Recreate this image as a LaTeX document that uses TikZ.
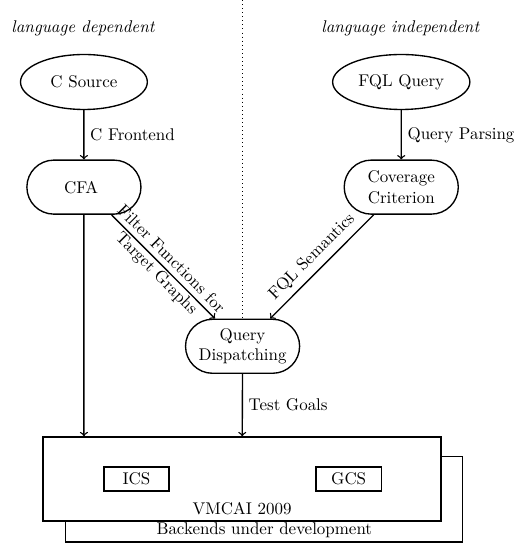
\documentclass[tikz,border=0pt]{standalone}
\usepackage{tikz}
\usetikzlibrary{shapes.geometric,shapes.misc}

\begin{document}
\begin{tikzpicture}[
    source/.style={
        draw,
        ellipse,
        thick,
        minimum width=2.63cm,
        minimum height=1.14cm
    },
    stage/.style={
        draw,
        rounded rectangle,
        thick,
        align=center,
        minimum width=2.6cm,
        minimum height=1.12cm
    },
    backend/.style={
        draw,
        thick,
        minimum width=1.35cm,
        minimum height=0.5cm
    },
    arrow/.style={
        ->,
        thick
    }
]

\useasboundingbox (0,0) rectangle (10.70,-11.28);

\draw[dotted] (5.03,0) -- (5.03,-6.62);

\node (dep) at (1.72,-0.58) {\itshape language dependent};
\node (indep) at (8.30,-0.58) {\itshape language independent};

\node[source] (csource) at (1.74,-1.70)
{
    C Source
};

\node[source] (fql) at (8.32,-1.70)
{
    FQL Query
};

\node[stage] (cfa) at (1.74,-3.88)
{
    CFA
};

\node[stage] (coverage) at (8.32,-3.88)
{
    Coverage\\
    Criterion
};

\node[stage] (dispatch) at (5.03,-7.18)
{
    Query\\
    Dispatching
};

% backends
\node[draw, thick, minimum width=8.23cm, minimum height=1.78cm] (future) at (5.47,-10.35) {};
\node[draw, thick, fill=white, minimum width=8.25cm, minimum height=1.74cm] (vmcai) at (5.02,-9.93) {};

\node (devel) at (5.48,-10.99) {Backends under development};
\node (year) at (5.02,-10.54) {VMCAI 2009};

\node[backend] (ics) at (2.83,-9.93) {ICS};
\node[backend] (gcs) at (7.23,-9.93) {GCS};

\draw[arrow] (csource) -- node[right] {C Frontend} (cfa);
\draw[arrow] (fql) -- node[right] {Query Parsing} (coverage);

\draw[arrow] (cfa) -- node[sloped, align=center] {Filter Functions for\\Target Graphs} (dispatch);
\draw[arrow] (coverage) -- node[sloped, above] {FQL Semantics} (dispatch);

\draw[arrow] (cfa) -- (cfa |- vmcai.north);
\draw[arrow] (dispatch) -- node[right] {Test Goals} (vmcai);

\end{tikzpicture}
\end{document}
